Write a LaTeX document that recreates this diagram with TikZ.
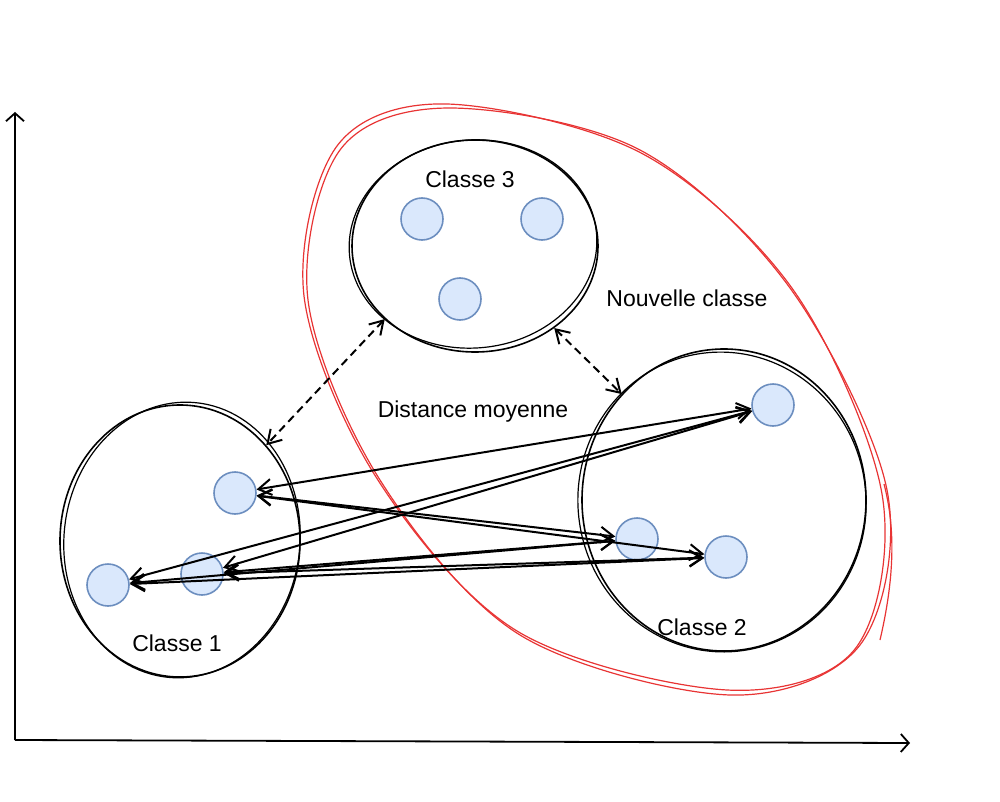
\documentclass[tikz,border=0pt]{standalone}
\usepackage{fontspec}
\setmainfont{Liberation Sans}
\usetikzlibrary{arrows.meta,shapes.geometric}
\definecolor{dotfill}{RGB}{218,232,252}
\definecolor{dotdraw}{RGB}{108,142,191}
\definecolor{redline}{RGB}{232,52,52}
\tikzset{
 dot/.style={circle, draw=dotdraw, fill=dotfill, line width=0.8pt, minimum size=21pt, inner sep=0pt},
 classbox/.style={ellipse, draw=black, line width=0.8pt, inner sep=0pt},
 sketch/.style={draw=black, line width=0.6pt},
 lbl/.style={font=\fontsize{11.5}{13}\selectfont, inner sep=0pt},
 link/.style={line width=1pt, {Straight Barb[length=6.5pt,width=8pt]}-{Straight Barb[length=6.5pt,width=8pt]}},
 dlink/.style={link, dash pattern=on 4pt off 2.5pt},
 axis/.style={line width=0.9pt, -{Straight Barb[length=4pt,width=9pt]}},
 group/.style={draw=redline, line width=0.6pt},
}
\begin{document}
\begin{tikzpicture}[x=0.5pt,y=-0.5pt]
\useasboundingbox (0,0) rectangle (1000,802);
% grouping shape (hand-drawn, two strokes)
\draw[group] plot[smooth cycle, tension=0.55] coordinates {
 (450,108) (640,150) (790,288) (887,490) (860,645) (730,695) (520,635)
 (380,480) (308,300) (340,150)};
\draw[group] plot[smooth cycle, tension=0.55] coordinates {
 (447,104) (643,154) (794,291) (882,494) (855,649) (727,690) (517,631)
 (376,477) (304,296) (337,146)};
\draw[group] (884,484) .. controls (896,530) and (894,580) .. (880,640);
% classes
\node[classbox, minimum width=123pt, minimum height=106pt] (c3) at (475,246) {};
\coordinate (s3) at (473,244);
\draw[sketch, rotate around={5:(s3)}] (s3) ellipse [x radius=62pt, y radius=52pt];
\node[classbox, minimum width=142pt, minimum height=151pt] (c2) at (724,500) {};
\coordinate (s2) at (722,502);
\draw[sketch, rotate around={8:(s2)}] (s2) ellipse [x radius=72pt, y radius=75pt];
\node[classbox, minimum width=120pt, minimum height=136pt] (c1) at (180,541) {};
\coordinate (s1) at (182,540);
\draw[sketch, rotate around={-6:(s1)}] (s1) ellipse [x radius=59pt, y radius=69pt];
% points
\node[dot] (p31) at (422,219) {};
\node[dot] (p32) at (542,219) {};
\node[dot] (p33) at (460,299) {};
\node[dot] (p21) at (773,405) {};
\node[dot] (p22) at (637,539) {};
\node[dot] (p23) at (726,557) {};
\node[dot] (p11) at (235,493) {};
\node[dot] (p12) at (202,574) {};
\node[dot] (p13) at (108,585) {};
% labels
\node[lbl] (t3) at (470,179) {Classe 3};
\node[lbl] (tn) at (687,298) {Nouvelle classe};
\node[lbl] (td) at (473,412) {Distance moyenne};
\node[lbl] (t2) at (702,627) {Classe 2};
\node[lbl] (t1) at (177,643) {Classe 1};
% links
\foreach \a in {p11,p12,p13} {
  \foreach \b in {p21,p22,p23} {
    \draw[link] (\a) -- (\b);
  }
}
\draw[dlink] (c3.219) -- (c1.48);
\draw[dlink] (c3.314) -- (c2.134);
% axes
\coordinate (o) at (15,740);
\coordinate (ytop) at (15,112);
\coordinate (xend) at (910,743);
\draw[axis] (o) -- (ytop);
\draw[axis] (o) -- (xend);
\end{tikzpicture}
\end{document}
